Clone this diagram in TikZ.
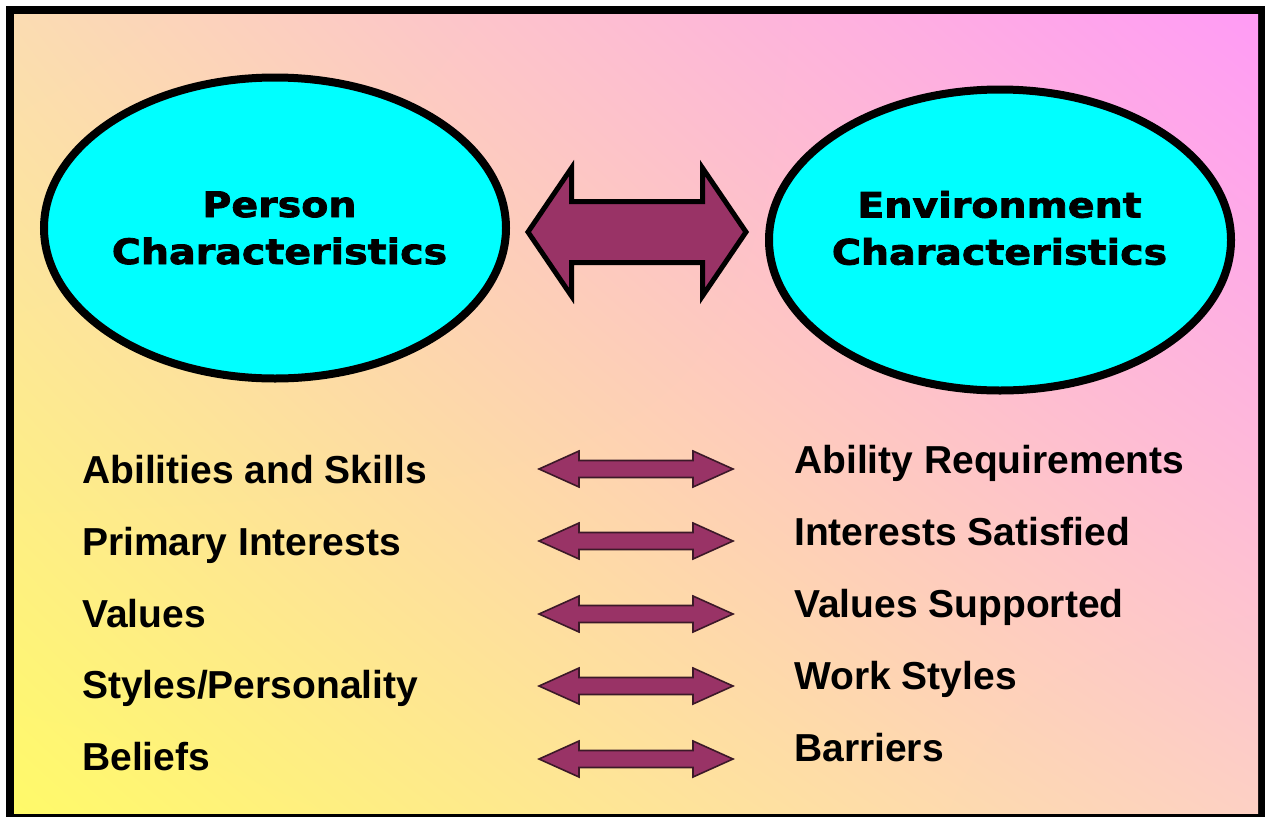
\documentclass[tikz,border=0pt]{standalone}
\usepackage{fontspec}
\usetikzlibrary{shapes.geometric,shadings}
\newfontfamily\heavyfont{DejaVu Sans}[FakeStretch=1.13, FakeBold=2.2]
\newfontfamily\listfont{Liberation Sans}
\definecolor{bgpeach}{RGB}{251,220,178}
\definecolor{bgpink}{RGB}{255,155,245}
\definecolor{bgyellow}{RGB}{255,250,105}
\definecolor{bgrose}{RGB}{253,208,196}
\definecolor{ovalfill}{RGB}{0,255,255}
\definecolor{arrowfill}{RGB}{153,51,102}
\definecolor{arrowedge}{RGB}{60,25,40}
\tikzset{
  pics/twoway/.style n args={4}{code={
    % two-headed block arrow: half length, head back, head half height, shaft half height
    \path[pic actions] (-#1,0) -- (-#2,-#3) -- (-#2,-#4) -- (#2,-#4) -- (#2,-#3)
      -- (#1,0) -- (#2,#3) -- (#2,#4) -- (-#2,#4) -- (-#2,#3) -- cycle;
  }},
  bigarrow/.style={fill=arrowfill, draw=black, line width=5pt, line join=miter},
  smallarrow/.style={fill=arrowfill, draw=arrowedge, line width=1.6pt, line join=miter},
  oval/.style={ellipse, draw=black, fill=ovalfill, line width=8pt,
    minimum width=462pt, minimum height=301pt, inner sep=0pt},
  headline/.style={align=center, inner sep=0pt,
    font=\heavyfont\bfseries\fontsize{35}{47}\selectfont},
  item/.style={anchor=base west, inner sep=0pt,
    font=\listfont\bfseries\fontsize{39}{47}\selectfont},
}
\begin{document}
\begin{tikzpicture}[x=1pt,y=-1pt]
\useasboundingbox (0,0) rectangle (1265,817);
% frame and gradient backdrop
\fill[white] (0,0) rectangle (1265,817);
\fill[black] (6,6) rectangle (1265,817);
\shade[upper left=bgpeach, upper right=bgpink, lower left=bgyellow, lower right=bgrose]
  (14,14) rectangle (1258,813);

% the two characteristic ovals
\node[oval] (person) at (275,228) {};
\node[oval] (environment) at (1000,240) {};
\node[headline] (personlbl) at (279.5,228) {Person\\Characteristics};
\node[headline] (environmentlbl) at (999.5,228) {Environment\\Characteristics};

% main two-way arrow between the ovals
\pic[bigarrow] at (637,232) {twoway={109}{65.5}{64}{30.5}};

% person side
\node[item] (p1) at (82,483) {Abilities and Skills};
\node[item] (p2) at (82,555) {Primary Interests};
\node[item] (p3) at (82,627) {Values};
\node[item] (p4) at (82,698) {Styles/Personality};
\node[item] (p5) at (82,770) {Beliefs};

% environment side
\node[item] (e1) at (794,473) {Ability Requirements};
\node[item] (e2) at (794,545) {Interests Satisfied};
\node[item] (e3) at (794,617) {Values Supported};
\node[item] (e4) at (794,689) {Work Styles};
\node[item] (e5) at (794,761) {Barriers};

% matching arrows
\foreach \yy in {469,541,614,686,759}
  \pic[smallarrow] at (636,\yy) {twoway={97}{57}{18}{8.5}};
\end{tikzpicture}
\end{document}
